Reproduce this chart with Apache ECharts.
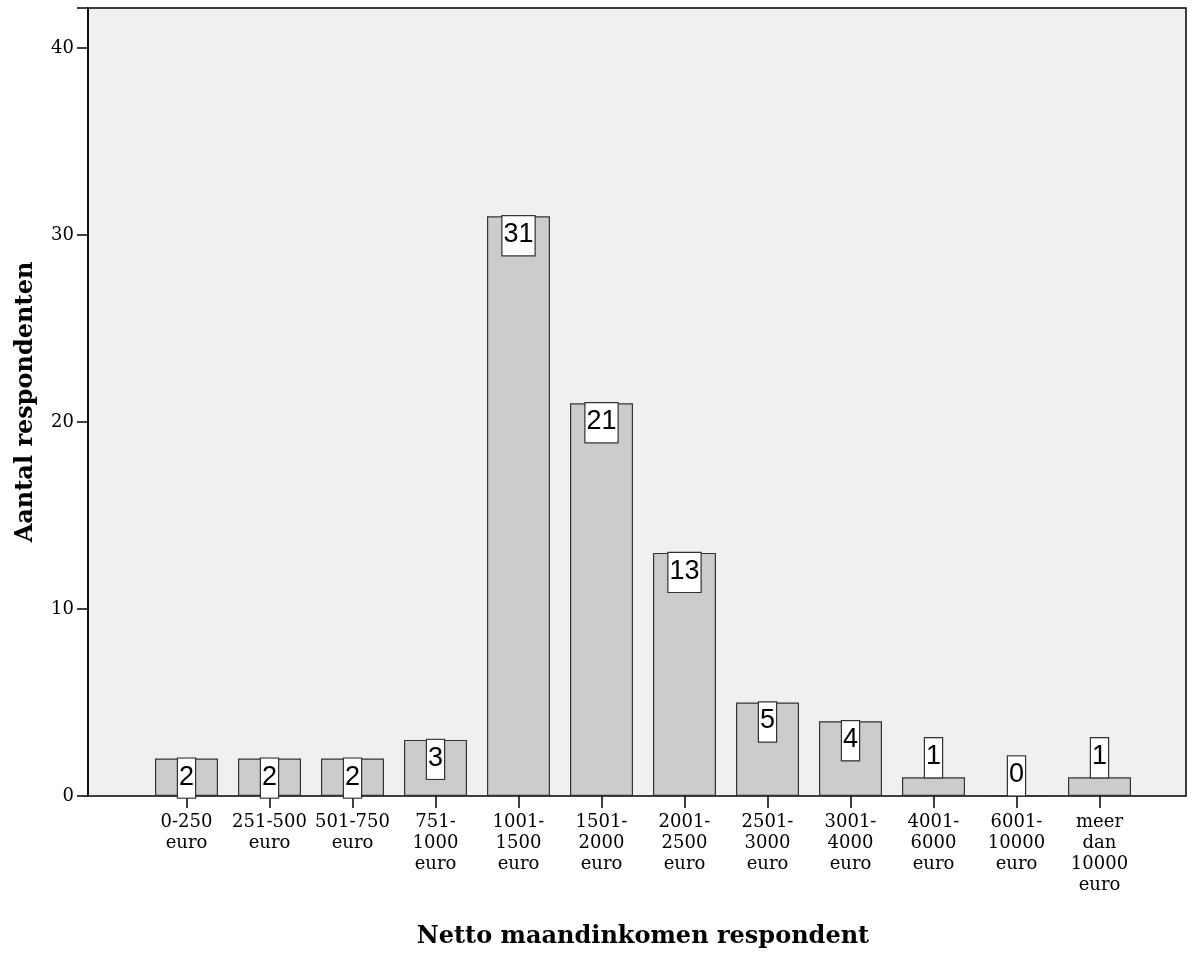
<!DOCTYPE html>
<html>
<head>
<meta charset="utf-8">
<script src="https://cdn.jsdelivr.net/npm/echarts@6/dist/echarts.min.js"></script>
<style>html,body{margin:0;padding:0;background:#fff}#c{width:1196px;height:953px}</style>
</head>
<body>
<div id="c"></div>
<script>
var categories = ['0-250\neuro', '251-500\neuro', '501-750\neuro', '751-\n1000\neuro', '1001-\n1500\neuro', '1501-\n2000\neuro', '2001-\n2500\neuro', '2501-\n3000\neuro', '3001-\n4000\neuro', '4001-\n6000\neuro', '6001-\n10000\neuro', 'meer\ndan\n10000\neuro'];
var counts = [2, 2, 2, 3, 31, 21, 13, 5, 4, 1, 0, 1];
var yTicks = [0, 10, 20, 30, 40];
var xTitle = 'Netto maandinkomen respondent';
var yTitle = 'Aantal respondenten';

var YMAX = 42.14;
var serif = '"DejaVu Serif", serif';
var chart = echarts.init(document.getElementById('c'));

var barData = counts.map(function (v) {
  return {
    value: v,
    label: { position: v >= 2 ? 'insideTop' : 'top' }
  };
});

chart.setOption({
  animation: false,
  backgroundColor: '#ffffff',
  grid: [
    { left: 88, right: 10, top: 8, bottom: 157, show: true, backgroundColor: '#f0f0f0', borderColor: '#000', borderWidth: 1.5, containLabel: false, outerBoundsMode: 'none' },
    { left: 145, right: 55, top: 8, bottom: 157, containLabel: false, outerBoundsMode: 'none' }
  ],
  xAxis: [
    { gridIndex: 0, type: 'value', min: 0, max: 1, show: false },
    {
      gridIndex: 1, type: 'category', data: categories,
      axisLine: { show: false },
      axisTick: { show: true, alignWithLabel: true, length: 12, lineStyle: { color: '#000', width: 1.5 } },
      axisLabel: { interval: 0, margin: 16, color: '#000', fontFamily: serif, fontSize: 18, lineHeight: 21 },
      name: xTitle, nameLocation: 'middle', nameGap: 129,
      nameTextStyle: { fontFamily: serif, fontWeight: 'bold', fontSize: 24, color: '#000' }
    }
  ],
  yAxis: [
    {
      gridIndex: 0, type: 'value', min: 0, max: YMAX, interval: 10,
      axisLine: { show: true, lineStyle: { color: '#000', width: 1.5 } },
      axisTick: { show: true, length: 11, lineStyle: { color: '#000', width: 1.5 } },
      axisLabel: {
        margin: 14, color: '#000', fontFamily: serif, fontSize: 18,
        formatter: function (v) { return yTicks.indexOf(v) >= 0 ? String(v) : ''; }
      },
      splitLine: { show: false },
      name: yTitle, nameLocation: 'middle', nameGap: 50,
      nameTextStyle: { fontFamily: serif, fontWeight: 'bold', fontSize: 24, color: '#000' }
    },
    { gridIndex: 1, type: 'value', min: 0, max: YMAX, interval: 10, show: false }
  ],
  series: [{
    type: 'bar',
    xAxisIndex: 1, yAxisIndex: 1,
    data: barData,
    barWidth: 63,
    itemStyle: { color: '#cccccc', borderColor: '#333333', borderWidth: 1.2 },
    label: {
      show: true,
      distance: 0,
      color: '#000',
      fontFamily: '"Liberation Sans", sans-serif',
      fontSize: 27,
      lineHeight: 29,
      backgroundColor: '#ffffff',
      borderColor: '#333333',
      borderWidth: 1.2,
      padding: [4, 1, 6, 1]
    }
  }]
});
</script>
</body>
</html>
